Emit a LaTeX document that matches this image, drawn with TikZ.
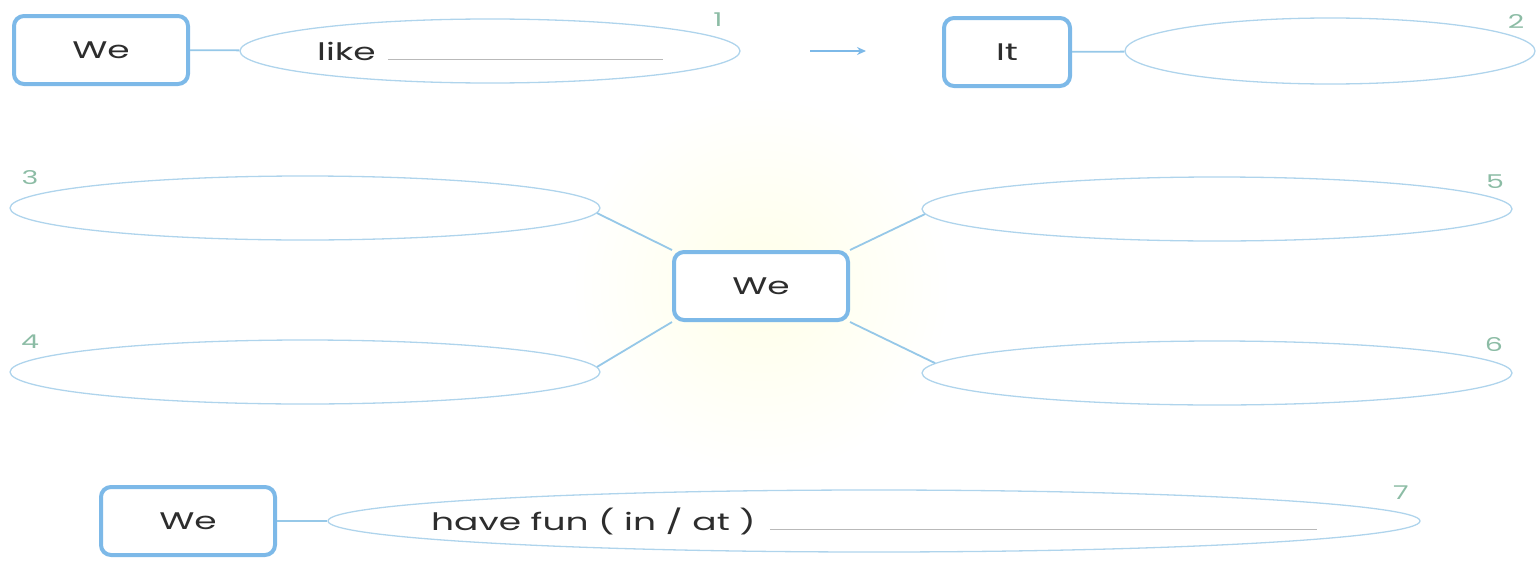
\documentclass[tikz,border=0pt]{standalone}
\usepackage{fontspec}
\setmainfont{Poppins}
\usetikzlibrary{shapes.geometric,positioning,arrows.meta}
\pgfdeclarelayer{background layer}
\pgfsetlayers{background layer,main}
\definecolor{boxblue}{RGB}{125,185,232}
\definecolor{ringblue}{RGB}{175,212,236}
\definecolor{linkblue}{RGB}{150,200,232}
\definecolor{numgreen}{RGB}{140,188,165}
\definecolor{inkgray}{RGB}{45,45,45}
\tikzset{
  wordbox/.style={draw=boxblue,line width=4pt,rounded corners=10pt,fill=white,
    minimum width=174pt,minimum height=68pt,text=inkgray,font=\fontsize{24}{28}\selectfont},
  bubble/.style={ellipse,draw=ringblue,line width=1.3pt,inner sep=0pt},
  filltext/.style={text=inkgray,font=\fontsize{24}{28}\selectfont},
  num/.style={text=numgreen,font=\fontsize{19}{22}\selectfont},
  link/.style={draw=linkblue,line width=1.8pt}
}
\newcommand{\wide}[1]{\scalebox{1.5}[1]{#1}}
\newcommand{\gap}[1]{\textcolor{gray!55}{\rule{#1}{0.8pt}}}
\begin{document}
\begin{tikzpicture}[x=1pt,y=-1pt]
\useasboundingbox (0,0) rectangle (1538,562);
% top row
\node (we1) [wordbox] at (101,50) {\wide{We}};
\node (like) [bubble,minimum width=500pt,minimum height=64pt] at (490,51) {};
\node (liketxt) [filltext] at (like) {\wide{like}\hspace{12pt}\gap{275pt}};
\node (n1) [num] at (718,20) {\wide{1}};
\coordinate (arrs) at (810,51);
\coordinate (arre) at (866,51);
\draw [draw=boxblue,line width=1.6pt,-{Stealth[length=9pt,width=8pt]}] (arrs) -- (arre);
\node (it) [wordbox,minimum width=126pt] at (1007,52) {\wide{It}};
\node (itb) [bubble,minimum width=410pt,minimum height=66pt] at (1330,51) {};
\node (n2) [num] at (1516,22) {\wide{2}};
\draw [link] (we1) -- (like);
\draw [link] (it) -- (itb);
% middle
\begin{pgfonlayer}{background layer}
\shade [inner color=yellow!9,outer color=white] (761,286) circle (190);
\end{pgfonlayer}
\node (mid) [wordbox] at (761,286) {\wide{We}};
\node (e3) [bubble,minimum width=590pt,minimum height=64pt] at (305,208) {};
\node (e4) [bubble,minimum width=590pt,minimum height=64pt] at (305,372) {};
\node (e5) [bubble,minimum width=590pt,minimum height=64pt] at (1217,209) {};
\node (e6) [bubble,minimum width=590pt,minimum height=64pt] at (1217,373) {};
\node (n3) [num] at (30,178) {\wide{3}};
\node (n4) [num] at (30,342) {\wide{4}};
\node (n5) [num] at (1495,182) {\wide{5}};
\node (n6) [num] at (1494,345) {\wide{6}};
\draw [link] (e3.-1.2) -- (mid.north west);
\draw [link] (e4.1.2) -- (mid.south west);
\draw [link] (e5.181.2) -- (mid.north east);
\draw [link] (e6.178.8) -- (mid.south east);
% bottom row
\node (we7) [wordbox] at (188,521) {\wide{We}};
\node (fun) [bubble,minimum width=1092pt,minimum height=62pt] at (874,521) {};
\node (funtxt) [filltext] at (fun) {\wide{have fun ( in / at )}\hspace{14pt}\gap{547pt}};
\node (n7) [num] at (1401,493) {\wide{7}};
\draw [link] (we7) -- (fun);
\end{tikzpicture}
\end{document}
